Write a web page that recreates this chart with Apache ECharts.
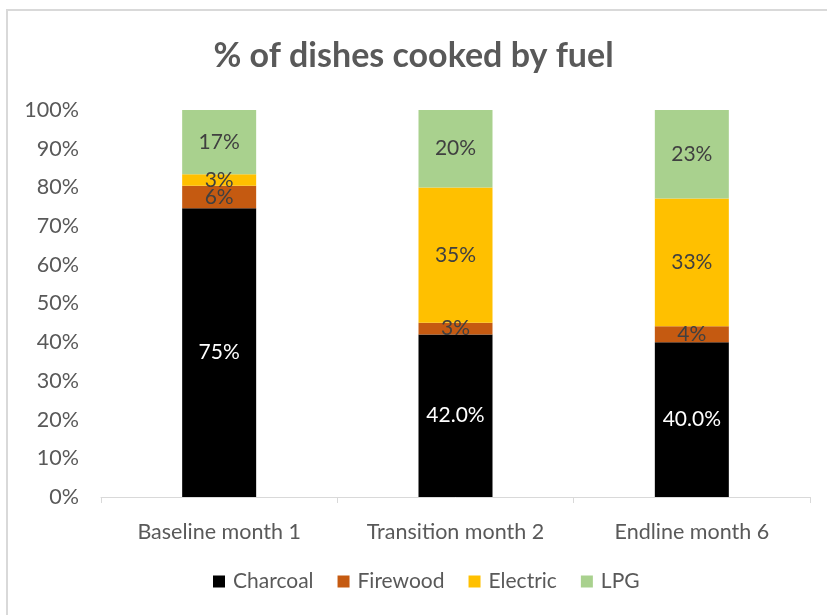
<!DOCTYPE html>
<html>
<head>
<meta charset="utf-8">
<script src="https://cdn.jsdelivr.net/npm/echarts@6/dist/echarts.min.js"></script>
<style>
  html, body { margin: 0; padding: 0; background: #fff; }
  #chart { width: 827px; height: 615px; }
</style>
</head>
<body>
<div id="chart"></div>
<script>
// Share of dishes cooked with each fuel, per survey round (percent)
const categories = ['Baseline month 1', 'Transition month 2', 'Endline month 6'];
const charcoal = [74.6, 42.0, 40.0];
const firewood = [5.8, 3.0, 4.1];
const electric = [3.0, 35.0, 33.0];
const lpg = [16.6, 20.0, 22.9];
// decimals shown on each charcoal label
const charcoalDecimals = [0, 1, 1];
const yTicks = [0, 10, 20, 30, 40, 50, 60, 70, 80, 90, 100];

const FONT = 'Lato, "Open Sans", sans-serif';
const TEXT = '#595959';

function makeSeries(name, data, color, labelColor, decimals) {
  return {
    name: name,
    type: 'bar',
    stack: 'fuel',
    data: data,
    barWidth: 74,
    itemStyle: { color: color },
    label: {
      show: true,
      position: 'inside',
      color: labelColor,
      fontFamily: FONT,
      fontSize: 21,
      formatter: function (p) {
        const d = decimals ? decimals[p.dataIndex] : 0;
        return p.value.toFixed(d) + '%';
      }
    }
  };
}

const chart = echarts.init(document.getElementById('chart'));
chart.setOption({
  animation: false,
  backgroundColor: '#fff',
  title: {
    text: '% of dishes cooked by fuel',
    left: 'center',
    top: 34,
    textStyle: { fontFamily: FONT, fontSize: 34, fontWeight: 'bold', color: TEXT }
  },
  graphic: [{
    type: 'rect',
    shape: { x: 7, y: 10, width: 840, height: 640 },
    style: { fill: 'none', stroke: '#d9d9d9', lineWidth: 2 },
    silent: true
  }],
  legend: {
    bottom: 18,
    left: 208,
    itemWidth: 12,
    itemHeight: 12,
    itemGap: 24,
    icon: 'rect',
    textStyle: { fontFamily: FONT, fontSize: 21, color: TEXT, padding: [0, 0, 0, 3] },
    data: ['Charcoal', 'Firewood', 'Electric', 'LPG']
  },
  grid: { left: 101, right: 17, top: 110, bottom: 118, containLabel: false },
  xAxis: {
    type: 'category',
    data: categories,
    axisLine: { lineStyle: { color: '#d9d9d9', width: 1 } },
    axisTick: { show: true, length: 6, lineStyle: { color: '#d9d9d9' } },
    axisLabel: { fontFamily: FONT, fontSize: 21.5, color: TEXT, margin: 24 }
  },
  yAxis: {
    type: 'value',
    min: yTicks[0],
    max: yTicks[yTicks.length - 1],
    interval: yTicks[1] - yTicks[0],
    axisLine: { show: false },
    axisTick: { show: false },
    splitLine: { show: false },
    axisLabel: { fontFamily: FONT, fontSize: 21.5, color: TEXT, margin: 22, formatter: '{value}%' }
  },
  series: [
    makeSeries('Charcoal', charcoal, '#000000', '#ffffff', charcoalDecimals),
    makeSeries('Firewood', firewood, '#c55a11', '#404040'),
    makeSeries('Electric', electric, '#ffc000', '#404040'),
    makeSeries('LPG', lpg, '#a9d18e', '#404040')
  ]
});
</script>
</body>
</html>
